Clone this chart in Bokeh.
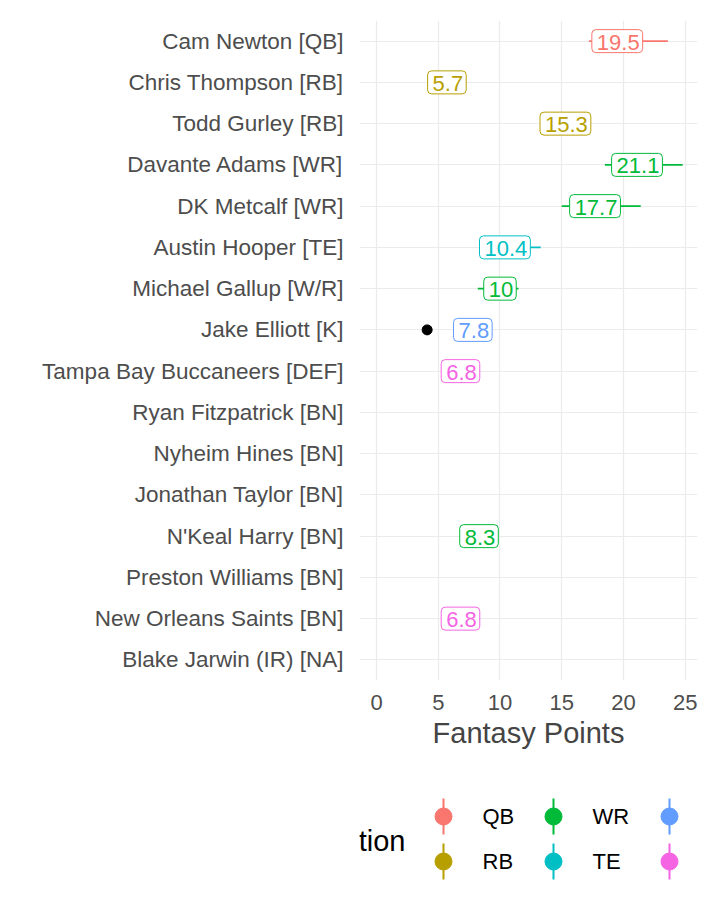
from bokeh.plotting import figure
from bokeh.layouts import column
from bokeh.models import FactorRange, Range1d, ColumnDataSource, Label
from bokeh.core.properties import value
from bokeh.embed import file_html
from bokeh.resources import INLINE

players = ["Cam Newton [QB]", "Chris Thompson [RB]", "Todd Gurley [RB]", "Davante Adams [WR]",
           "DK Metcalf [WR]", "Austin Hooper [TE]", "Michael Gallup [W/R]", "Jake Elliott [K]",
           "Tampa Bay Buccaneers [DEF]", "Ryan Fitzpatrick [BN]", "Nyheim Hines [BN]",
           "Jonathan Taylor [BN]", "N'Keal Harry [BN]", "Preston Williams [BN]",
           "New Orleans Saints [BN]", "Blake Jarwin (IR) [NA]"]
positions = ["QB", "RB", "RB", "WR", "WR", "TE", "WR", "K", "DEF", None, None, None, "WR", None, "DEF", None]
points = [19.5, 5.7, 15.3, 21.1, 17.7, 10.4, 10.0, 7.8, 6.8, None, None, None, 8.3, None, 6.8, None]
err_lo = [17.2, 5.7, 15.3, 18.5, 15.0, 8.5, 8.2, 7.8, 6.8, None, None, None, 8.3, None, 6.8, None]
err_hi = [23.6, 5.7, 15.3, 24.8, 21.4, 13.3, 11.5, 7.8, 6.8, None, None, None, 8.3, None, 6.8, None]
elliott_proj = 4.1
legend_pos = ["QB", "RB", "WR", "TE", "K", "DEF"]
palette = {"QB": "#F8766D", "RB": "#B79F00", "WR": "#00BA38", "TE": "#00BFC4", "K": "#619CFF", "DEF": "#F564E3"}
x_ticks = [0, 5, 10, 15, 20, 25]

FONT = "Liberation Sans"
ML, MR = 359, 15

p = figure(width=712, height=768, output_backend="svg", toolbar_location=None,
           y_range=FactorRange(factors=players[::-1], range_padding=0),
           x_range=Range1d(-1.38, 26.0),
           min_border_left=ML, min_border_right=MR, min_border_top=20, min_border_bottom=88)
p.outline_line_color = None
p.xaxis.ticker = x_ticks
p.xgrid.minor_grid_line_color = "#EBEBEB"
p.xgrid.minor_grid_line_width = 0.6
p.xaxis.ticker.num_minor_ticks = 2
p.xgrid.grid_line_color = "#EBEBEB"
p.ygrid.grid_line_color = "#EBEBEB"
p.xgrid.grid_line_width = 1.2
p.ygrid.grid_line_width = 1.2
for ax in (p.xaxis, p.yaxis):
    ax.axis_line_color = None
    ax.major_tick_line_color = None
    ax.minor_tick_line_color = None
    ax.major_label_text_font = FONT
    ax.major_label_text_color = "#4D4D4D"
p.yaxis.major_label_text_font_size = "22.5px"
p.xaxis.major_label_text_font_size = "22px"
p.xaxis.major_label_standoff = 8
p.yaxis.major_label_standoff = 10
p.xaxis.axis_label = "Fantasy Points"
p.xaxis.axis_label_text_font = FONT
p.xaxis.axis_label_text_font_style = "normal"
p.xaxis.axis_label_text_font_size = "29px"
p.xaxis.axis_label_standoff = 4

rows = [i for i in range(len(players)) if points[i] is not None]
src = ColumnDataSource(dict(
    y=[players[i] for i in rows],
    x=[points[i] for i in rows],
    lo=[err_lo[i] for i in rows],
    hi=[err_hi[i] for i in rows],
    c=[palette[positions[i]] for i in rows],
    t=[("%g" % points[i]) for i in rows],
))
p.segment(x0="lo", x1="hi", y0="y", y1="y", line_color="c", line_width=1.6, source=src)
p.scatter(x="x", y="y", size=10, color="c", source=src)
p.scatter(x=[elliott_proj], y=["Jake Elliott [K]"], size=10, color="black")
p.text(x="x", y="y", text="t", text_color="c", text_align="center", text_baseline="middle",
       text_font=value(FONT), text_font_size="22px", source=src,
       background_fill_color="white", border_line_color="c", border_line_width=1,
       padding=[5, 3, 5, 3], border_radius=4)

# legend panel (same frame margins as main plot so column alignment keeps pixel mapping)
LH = 137
leg = figure(width=712, height=LH, output_backend="svg", toolbar_location=None,
             x_range=Range1d(ML, 712 - MR), y_range=Range1d(LH, 0),
             min_border_left=ML, min_border_right=MR, min_border_top=0, min_border_bottom=0)
leg.axis.visible = False
leg.grid.visible = False
leg.outline_line_color = None
leg.add_layout(Label(x=305, y=72, text="position", text_font=FONT, text_font_size="29px",
                     text_baseline="middle", text_color="black"))
kx = [443, 443, 553, 553, 669, 669]
ky = [48, 93, 48, 93, 48, 93]
cols = [palette[k] for k in legend_pos]
leg.segment(x0=kx, x1=kx, y0=[v - 18 for v in ky], y1=[v + 18 for v in ky], line_color=cols, line_width=2)
leg.scatter(x=kx, y=ky, size=17, color=cols)
for xx, yy, tt in zip(kx, ky, legend_pos):
    leg.add_layout(Label(x=xx + 39, y=yy, text=tt, text_font=FONT, text_font_size="22px",
                         text_baseline="middle", text_color="black"))

layout = column(p, leg, spacing=0)
open("out.html", "w").write(file_html(layout, INLINE))
